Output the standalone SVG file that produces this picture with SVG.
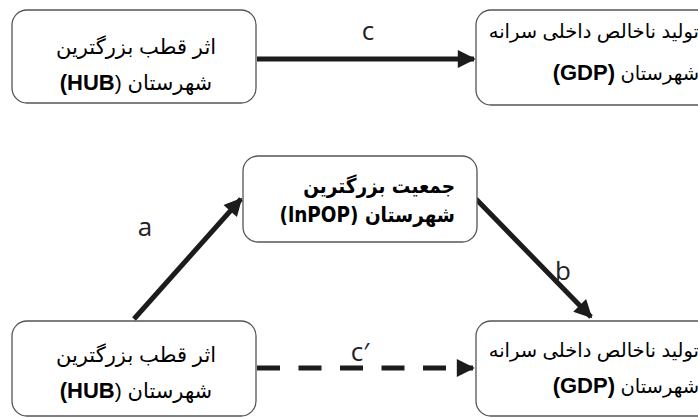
<svg xmlns="http://www.w3.org/2000/svg" width="698" height="418" viewBox="0 0 698 418">
<style>
.box{fill:#fff;stroke:#555;stroke-width:1.3}
.fa{font-family:"Liberation Sans","DejaVu Sans",sans-serif;font-size:21px;fill:#000;direction:rtl;unicode-bidi:embed}
.g{font-size:19.5px}
.b{font-weight:bold;font-size:22px}
.mid{font-family:"DejaVu Sans Condensed","DejaVu Sans","Liberation Sans",sans-serif;font-size:20.5px;font-weight:bold;fill:#000;direction:rtl;unicode-bidi:embed}
.lbl{font-family:"Open Sans","Liberation Sans",sans-serif;font-size:26px;fill:#222;text-anchor:middle}
.ln{stroke:#1c1c1c;stroke-width:5;fill:none}
</style>
<defs>
<marker id="ah" viewBox="0 0 10 10" refX="9" refY="5" markerWidth="4.2" markerHeight="3.6" markerUnits="strokeWidth" orient="auto">
<path d="M0,0 L10,5 L0,10 z" fill="#1c1c1c"/>
</marker>
</defs>
<g id="connectors">
<line class="ln" x1="257" y1="59" x2="474" y2="59" marker-end="url(#ah)"/>
<line class="ln" x1="134" y1="319" x2="241" y2="199" marker-end="url(#ah)"/>
<line class="ln" x1="476" y1="199" x2="591" y2="317" marker-end="url(#ah)"/>
<line class="ln" x1="257" y1="368" x2="473" y2="368" stroke-dasharray="23 18.5" marker-end="url(#ah)"/>
<text class="lbl" x="368" y="40">c</text>
<text class="lbl" x="145" y="236">a</text>
<text class="lbl" x="563" y="280">b</text>
<text class="lbl" x="360" y="361">c′</text>
</g>
<g id="hub-top">
<rect class="box" x="12" y="10" width="244" height="93" rx="15"/>
<text class="fa" x="136" y="54" text-anchor="middle">اثر قطب بزرگترین</text>
<text class="fa" x="136" y="90" text-anchor="middle">شهرستان (<tspan class="b">HUB)</tspan></text>
</g>
<g id="gdp-top">
<rect class="box" x="476" y="10" width="262" height="95" rx="15"/>
<text class="fa g" x="699" y="38" text-anchor="start">تولید ناخالص داخلی سرانه</text>
<text class="fa g" x="699" y="80" text-anchor="start">شهرستان <tspan class="b">(GDP)</tspan></text>
</g>
<g id="pop">
<rect class="box" x="243" y="156" width="234" height="86" rx="15"/>
<text class="mid" x="455" y="193" text-anchor="start">جمعیت بزرگترین</text>
<text class="mid" x="455" y="222" text-anchor="start">شهرستان (lnPOP)</text>
</g>
<g id="hub-bottom">
<rect class="box" x="12" y="321" width="244" height="95" rx="15"/>
<text class="fa" x="136" y="362" text-anchor="middle">اثر قطب بزرگترین</text>
<text class="fa" x="136" y="398" text-anchor="middle">شهرستان (<tspan class="b">HUB)</tspan></text>
</g>
<g id="gdp-bottom">
<rect class="box" x="476" y="321" width="262" height="95" rx="15"/>
<text class="fa g" x="699" y="357" text-anchor="start">تولید ناخالص داخلی سرانه</text>
<text class="fa g" x="699" y="393" text-anchor="start">شهرستان <tspan class="b">(GDP)</tspan></text>
</g>
</svg>
